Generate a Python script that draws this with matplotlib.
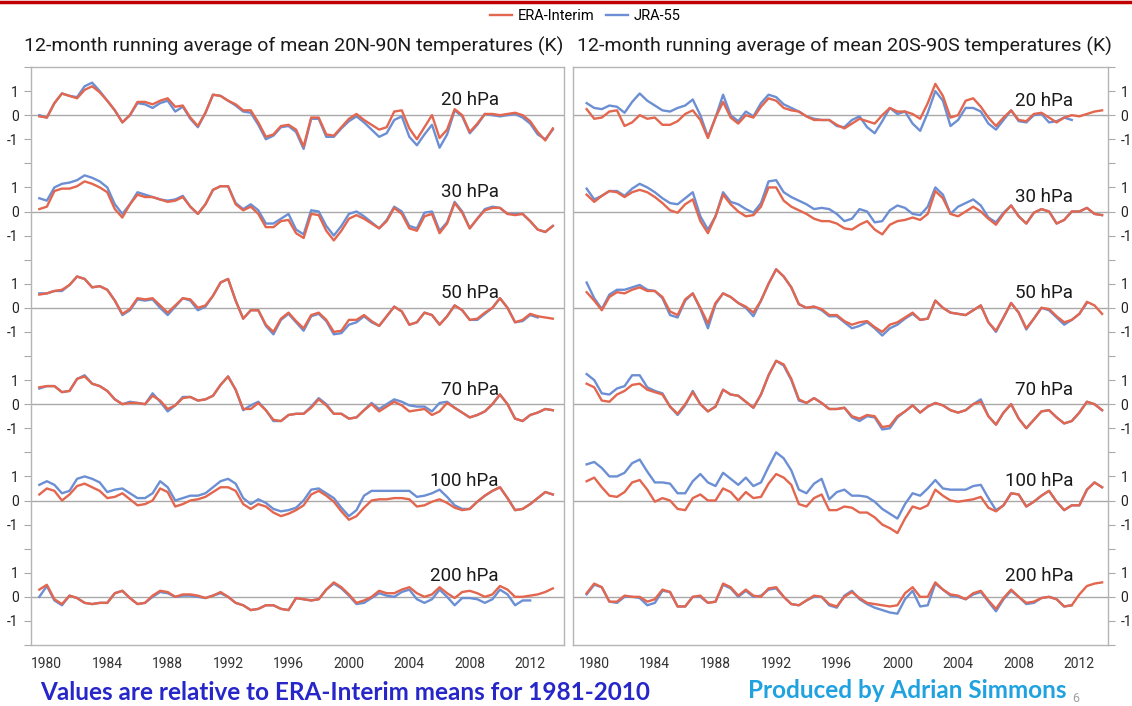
import numpy as np
import matplotlib
matplotlib.use("Agg")
import matplotlib.pyplot as plt
from matplotlib import font_manager
from matplotlib.lines import Line2D

# time axis: 12-month running means, read every half year
years = np.arange(1979.5, 2013.6, 0.5)
levels = ["20 hPa", "30 hPa", "50 hPa", "70 hPa", "100 hPa", "200 hPa"]
year_ticks = list(range(1980, 2013, 4))
nan = np.nan

# 20N-90N, ERA-Interim and JRA-55 anomalies (K)
era_n20 = [-0.05, -0.1, 0.5, 0.9, 0.8, 0.7, 1.05, 1.2, 0.95, 0.6,
           0.2, -0.3, 0.0, 0.55, 0.55, 0.45, 0.6, 0.7, 0.35, 0.4,
           -0.1, -0.45, 0.1, 0.85, 0.8, 0.6, 0.45, 0.2, 0.2, -0.3,
           -0.9, -0.8, -0.45, -0.4, -0.6, -1.3, -0.1, -0.1, -0.8, -0.85,
           -0.5, -0.15, 0.05, -0.2, -0.4, -0.6, -0.5, 0.15, 0.2, -0.55,
           -1.0, -0.5, 0.0, -0.95, -0.6, 0.25, 0.0, -0.7, -0.35, 0.05,
           0.05, 0.0, 0.05, 0.1, 0.0, -0.25, -0.7, -1.05, -0.55]
jra_n20 = [0.0, -0.1, 0.5, 0.9, 0.8, 0.75, 1.2, 1.35, 1.0, 0.6,
           0.2, -0.3, 0.0, 0.5, 0.45, 0.3, 0.5, 0.6, 0.15, 0.35,
           -0.15, -0.5, 0.1, 0.85, 0.8, 0.6, 0.4, 0.15, 0.1, -0.4,
           -1.0, -0.85, -0.5, -0.45, -0.7, -1.4, -0.15, -0.15, -0.9, -0.9,
           -0.55, -0.25, -0.05, -0.3, -0.6, -0.9, -0.75, -0.2, -0.05, -0.9,
           -1.25, -0.8, -0.4, -1.35, -0.8, 0.2, -0.05, -0.75, -0.4, 0.05,
           0.0, -0.05, 0.0, 0.05, -0.1, -0.35, -0.8, -1.0, -0.6]
era_n30 = [0.1, 0.2, 0.85, 0.95, 0.95, 1.05, 1.25, 1.15, 1.0, 0.8,
           0.1, -0.25, 0.3, 0.7, 0.6, 0.6, 0.5, 0.4, 0.45, 0.6,
           0.2, -0.1, 0.3, 0.9, 1.05, 1.05, 0.3, 0.05, 0.2, -0.1,
           -0.65, -0.65, -0.4, -0.35, -0.9, -1.1, -0.1, -0.15, -0.8, -1.2,
           -0.8, -0.3, -0.15, -0.3, -0.5, -0.7, -0.4, 0.15, -0.1, -0.7,
           -0.8, -0.2, -0.1, -0.9, -0.5, 0.35, -0.05, -0.7, -0.3, 0.05,
           0.15, 0.15, -0.1, -0.15, -0.1, -0.4, -0.75, -0.85, -0.6]
jra_n30 = [0.55, 0.45, 1.0, 1.15, 1.2, 1.3, 1.5, 1.4, 1.25, 1.0,
           0.3, -0.1, 0.3, 0.8, 0.7, 0.6, 0.5, 0.45, 0.5, 0.65,
           0.2, -0.1, 0.3, 0.9, 1.05, 1.05, 0.35, 0.1, 0.3, 0.05,
           -0.5, -0.5, -0.3, -0.1, -0.75, -0.95, 0.05, 0.0, -0.6, -1.0,
           -0.6, -0.1, 0.0, -0.2, -0.45, -0.7, -0.35, 0.2, 0.0, -0.6,
           -0.7, -0.05, 0.0, -0.8, -0.45, 0.4, 0.0, -0.7, -0.3, 0.1,
           0.2, 0.15, -0.1, -0.1, -0.1, -0.4, -0.75, -0.85, -0.6]
era_n50 = [0.55, 0.6, 0.7, 0.75, 0.95, 1.3, 1.2, 0.85, 0.9, 0.75,
           0.3, -0.25, -0.05, 0.4, 0.35, 0.4, 0.1, -0.2, 0.1, 0.4,
           0.35, 0.0, 0.1, 0.5, 1.05, 1.2, 0.3, -0.45, -0.1, -0.1,
           -0.7, -1.0, -0.45, -0.2, -0.55, -0.85, -0.3, -0.2, -0.5, -1.0,
           -0.95, -0.5, -0.5, -0.3, -0.55, -0.75, -0.35, 0.05, -0.15, -0.7,
           -0.6, -0.2, -0.3, -0.7, -0.35, 0.1, -0.1, -0.5, -0.45, -0.2,
           0.0, 0.4, 0.0, -0.6, -0.5, -0.25, -0.35, -0.4, -0.45]
jra_n50 = [0.6, 0.6, 0.7, 0.7, 0.95, 1.3, 1.2, 0.85, 0.9, 0.75,
           0.3, -0.3, -0.1, 0.35, 0.3, 0.35, 0.0, -0.3, 0.05, 0.4,
           0.3, -0.1, 0.05, 0.5, 1.05, 1.2, 0.3, -0.45, -0.1, -0.1,
           -0.75, -1.1, -0.5, -0.25, -0.6, -0.95, -0.35, -0.25, -0.55, -1.1,
           -1.05, -0.7, -0.6, -0.35, -0.6, -0.75, -0.35, 0.05, -0.15, -0.7,
           -0.6, -0.2, -0.3, -0.7, -0.35, 0.1, -0.1, -0.5, -0.5, -0.25,
           0.0, 0.4, 0.0, -0.6, -0.55, -0.3, -0.4, nan, nan]
era_n70 = [0.7, 0.75, 0.75, 0.5, 0.55, 1.05, 1.15, 0.85, 0.75, 0.55,
           0.2, 0.0, 0.05, 0.05, 0.0, 0.35, 0.15, -0.2, -0.05, 0.25,
           0.3, 0.15, 0.2, 0.35, 0.8, 1.15, 0.6, -0.2, -0.2, 0.05,
           -0.25, -0.65, -0.7, -0.45, -0.4, -0.4, -0.15, 0.2, -0.05, -0.4,
           -0.4, -0.6, -0.55, -0.25, 0.0, -0.3, -0.1, 0.1, -0.05, -0.3,
           -0.25, -0.2, -0.45, -0.3, 0.05, -0.15, -0.35, -0.55, -0.45, -0.3,
           0.0, 0.4, 0.0, -0.6, -0.7, -0.45, -0.35, -0.2, -0.25]
jra_n70 = [0.65, 0.75, 0.75, 0.5, 0.55, 1.05, 1.2, 0.85, 0.75, 0.55,
           0.2, 0.0, 0.1, 0.05, 0.0, 0.45, 0.1, -0.3, -0.05, 0.3,
           0.3, 0.15, 0.2, 0.35, 0.8, 1.15, 0.6, -0.25, -0.05, 0.1,
           -0.25, -0.7, -0.7, -0.45, -0.4, -0.4, -0.1, 0.25, 0.0, -0.4,
           -0.4, -0.6, -0.55, -0.25, 0.05, -0.2, 0.0, 0.2, 0.1, -0.05,
           -0.1, -0.1, -0.3, 0.05, 0.1, -0.15, -0.35, -0.55, -0.45, -0.3,
           0.0, 0.4, 0.0, -0.6, -0.7, -0.45, -0.35, -0.2, -0.25]
era_n100 = [0.25, 0.5, 0.4, 0.0, 0.25, 0.6, 0.7, 0.55, 0.4, 0.1,
            0.15, 0.3, 0.05, -0.2, -0.15, 0.0, 0.5, 0.35, -0.25, -0.15,
            0.0, 0.05, 0.15, 0.35, 0.55, 0.55, 0.4, -0.15, -0.35, -0.15,
            -0.25, -0.5, -0.65, -0.55, -0.4, -0.2, 0.25, 0.4, 0.2, -0.05,
            -0.45, -0.8, -0.65, -0.3, 0.0, 0.05, 0.05, 0.1, 0.1, 0.05,
            -0.25, -0.2, -0.05, 0.05, -0.1, -0.3, -0.4, -0.35, -0.05, 0.2,
            0.4, 0.55, 0.1, -0.4, -0.35, -0.15, 0.1, 0.35, 0.25]
jra_n100 = [0.65, 0.8, 0.65, 0.3, 0.4, 0.9, 1.0, 0.9, 0.75, 0.35,
            0.45, 0.5, 0.3, 0.1, 0.1, 0.3, 0.8, 0.55, 0.0, 0.1,
            0.2, 0.2, 0.3, 0.55, 0.8, 0.9, 0.7, 0.1, -0.15, 0.05,
            -0.1, -0.35, -0.45, -0.4, -0.3, 0.0, 0.45, 0.5, 0.3, 0.1,
            -0.3, -0.65, -0.4, 0.2, 0.4, 0.4, 0.4, 0.4, 0.4, 0.4,
            0.15, 0.2, 0.3, 0.45, 0.15, -0.2, -0.35, -0.35, -0.05, 0.2,
            0.4, 0.55, 0.1, -0.4, -0.35, -0.15, 0.1, 0.35, 0.25]
era_n200 = [0.3, 0.5, -0.1, -0.3, 0.05, -0.05, -0.25, -0.3, -0.25, -0.25,
            0.15, 0.25, -0.05, -0.3, -0.25, 0.05, 0.25, 0.2, 0.0, 0.1,
            0.1, 0.05, -0.05, 0.05, 0.2, 0.0, -0.25, -0.35, -0.55, -0.5,
            -0.35, -0.35, -0.5, -0.55, -0.05, -0.1, -0.15, -0.1, 0.3, 0.6,
            0.4, 0.1, -0.25, -0.15, 0.0, 0.25, 0.15, 0.15, 0.3, 0.4,
            0.15, 0.0, 0.1, 0.4, 0.15, -0.05, 0.2, 0.25, 0.15, 0.0,
            0.1, 0.45, 0.3, 0.0, 0.0, 0.05, 0.1, 0.2, 0.35]
jra_n200 = [0.0, 0.45, -0.15, -0.35, 0.05, -0.05, -0.25, -0.3, -0.25, -0.25,
            0.15, 0.25, -0.05, -0.3, -0.25, 0.0, 0.2, 0.15, 0.0, 0.05,
            0.05, 0.0, -0.05, 0.05, 0.15, 0.0, -0.25, -0.35, -0.55, -0.5,
            -0.35, -0.35, -0.5, -0.55, -0.05, -0.1, -0.15, -0.1, 0.3, 0.55,
            0.35, 0.05, -0.3, -0.25, -0.05, 0.15, 0.05, 0.0, 0.2, 0.3,
            -0.1, -0.25, -0.1, 0.3, 0.0, -0.35, -0.05, -0.05, -0.1, -0.25,
            -0.1, 0.3, 0.1, -0.35, -0.15, -0.15, nan, nan, nan]

# 20S-90S
era_s20 = [0.25, -0.15, -0.1, 0.15, 0.2, -0.45, -0.3, 0.0, -0.15, -0.1,
           -0.4, -0.4, -0.25, 0.05, 0.2, -0.2, -0.95, -0.1, 0.55, -0.1,
           -0.35, 0.0, -0.1, 0.35, 0.7, 0.6, 0.3, 0.2, 0.15, -0.05,
           -0.2, -0.2, -0.2, -0.4, -0.55, -0.35, -0.15, -0.25, -0.35, 0.0,
           0.3, 0.15, 0.15, 0.05, -0.15, 0.5, 1.3, 0.8, -0.1, 0.0,
           0.6, 0.7, 0.35, -0.1, -0.45, -0.1, 0.2, -0.2, -0.25, 0.05,
           0.1, -0.1, -0.3, -0.1, 0.0, -0.05, 0.05, 0.15, 0.2]
jra_s20 = [0.5, 0.3, 0.25, 0.4, 0.35, 0.1, 0.55, 0.9, 0.6, 0.4,
           0.2, 0.15, 0.3, 0.4, 0.65, 0.0, -0.9, -0.1, 0.85, 0.0,
           -0.25, 0.15, -0.05, 0.5, 0.85, 0.75, 0.45, 0.3, 0.15, -0.05,
           -0.15, -0.2, -0.2, -0.45, -0.5, -0.2, -0.05, -0.5, -0.75, -0.25,
           0.3, 0.05, 0.15, -0.35, -0.65, 0.1, 1.0, 0.6, -0.45, -0.2,
           0.3, 0.3, 0.15, -0.35, -0.6, -0.2, 0.2, -0.25, -0.3, 0.0,
           0.05, -0.3, -0.25, -0.1, -0.2, nan, nan, nan, nan]
era_s30 = [0.7, 0.4, 0.65, 0.85, 0.8, 0.6, 0.8, 0.9, 0.8, 0.6,
           0.35, 0.05, -0.05, 0.3, 0.5, -0.4, -0.9, -0.2, 0.7, 0.3,
           0.0, -0.2, -0.15, 0.2, 1.0, 1.0, 0.45, 0.2, 0.05, -0.1,
           -0.3, -0.4, -0.4, -0.5, -0.7, -0.75, -0.55, -0.4, -0.75, -0.95,
           -0.55, -0.4, -0.35, -0.25, -0.35, -0.1, 0.85, 0.55, -0.1, -0.2,
           0.0, 0.2, 0.0, -0.3, -0.55, -0.1, 0.25, -0.2, -0.5, -0.05,
           0.1, 0.0, -0.5, -0.35, 0.0, 0.0, 0.15, -0.1, -0.15]
jra_s30 = [0.95, 0.5, 0.65, 0.85, 0.85, 0.65, 0.95, 1.15, 1.0, 0.8,
           0.55, 0.35, 0.3, 0.55, 0.8, -0.2, -0.75, -0.2, 0.8, 0.4,
           0.3, 0.1, -0.05, 0.35, 1.25, 1.3, 0.8, 0.6, 0.45, 0.3,
           0.1, 0.15, 0.1, -0.1, -0.4, -0.3, 0.1, 0.0, -0.45, -0.4,
           0.05, 0.25, 0.15, -0.1, -0.15, 0.2, 1.0, 0.7, -0.1, 0.2,
           0.35, 0.5, 0.25, -0.25, -0.45, -0.05, 0.25, -0.2, -0.5, -0.05,
           0.1, 0.0, -0.5, -0.35, 0.0, 0.0, 0.15, -0.1, -0.15]
era_s50 = [0.65, 0.3, -0.1, 0.45, 0.65, 0.6, 0.75, 0.85, 0.7, 0.7,
           0.45, -0.15, -0.3, 0.35, 0.6, 0.0, -0.65, 0.2, 0.6, 0.45,
           0.2, 0.05, -0.2, 0.3, 1.0, 1.6, 1.3, 0.85, 0.15, 0.0,
           0.05, -0.05, -0.3, -0.3, -0.55, -0.7, -0.6, -0.55, -0.8, -1.0,
           -0.7, -0.6, -0.4, -0.2, -0.5, -0.45, 0.3, 0.0, -0.2, -0.25,
           -0.3, -0.1, 0.1, -0.6, -0.95, -0.4, 0.2, -0.2, -0.85, -0.45,
           0.0, -0.05, -0.35, -0.6, -0.5, -0.25, 0.25, 0.1, -0.25]
jra_s50 = [1.05, 0.4, -0.05, 0.55, 0.75, 0.75, 0.85, 0.95, 0.75, 0.7,
           0.4, -0.3, -0.4, 0.3, 0.6, -0.05, -0.85, 0.15, 0.6, 0.45,
           0.2, 0.0, -0.35, 0.3, 1.0, 1.6, 1.3, 0.85, 0.15, 0.0,
           0.05, -0.1, -0.35, -0.35, -0.6, -0.85, -0.75, -0.6, -0.85, -1.15,
           -0.85, -0.7, -0.45, -0.25, -0.5, -0.45, 0.3, 0.0, -0.2, -0.25,
           -0.3, -0.1, 0.1, -0.6, -1.0, -0.4, 0.2, -0.2, -0.9, -0.45,
           0.0, -0.1, -0.4, -0.7, -0.5, -0.25, 0.2, nan, nan]
era_s70 = [0.85, 0.7, 0.15, 0.1, 0.4, 0.55, 0.8, 0.85, 0.6, 0.5,
           0.4, -0.1, -0.4, 0.0, 0.5, 0.0, -0.3, -0.1, 0.6, 0.4,
           0.35, 0.1, -0.15, 0.4, 1.2, 1.8, 1.65, 1.05, 0.2, 0.05,
           0.25, 0.05, -0.2, -0.2, -0.15, -0.5, -0.6, -0.45, -0.5, -0.95,
           -0.9, -0.5, -0.3, -0.05, -0.35, -0.1, 0.05, -0.05, -0.25, -0.35,
           -0.25, 0.0, 0.1, -0.5, -0.85, -0.35, 0.0, -0.6, -1.0, -0.65,
           -0.3, -0.25, -0.55, -0.8, -0.7, -0.35, 0.1, 0.0, -0.25]
jra_s70 = [1.25, 1.0, 0.45, 0.4, 0.65, 0.75, 1.2, 1.2, 0.7, 0.55,
           0.45, -0.1, -0.45, -0.05, 0.55, 0.0, -0.3, -0.1, 0.6, 0.4,
           0.35, 0.1, -0.15, 0.4, 1.2, 1.8, 1.6, 1.0, 0.15, 0.05,
           0.25, 0.05, -0.2, -0.2, -0.15, -0.55, -0.7, -0.5, -0.55, -1.05,
           -1.0, -0.55, -0.3, -0.05, -0.35, -0.1, 0.05, -0.05, -0.25, -0.35,
           -0.25, 0.0, 0.2, -0.5, -0.85, -0.35, 0.0, -0.6, -1.0, -0.65,
           -0.3, -0.25, -0.55, -0.8, -0.7, -0.35, 0.1, 0.0, -0.25]
era_s100 = [0.8, 0.95, 0.55, 0.2, 0.15, 0.35, 0.75, 0.85, 0.45, -0.05,
            0.1, 0.0, -0.35, -0.4, 0.1, 0.25, 0.0, 0.0, 0.5, 0.35,
            0.0, 0.35, 0.1, 0.15, 0.7, 1.1, 0.95, 0.65, -0.15, -0.25,
            0.1, 0.25, -0.4, -0.4, -0.25, -0.3, -0.5, -0.5, -0.7, -1.0,
            -1.15, -1.35, -0.75, -0.25, -0.35, -0.2, 0.45, 0.2, 0.0, -0.05,
            0.0, 0.05, 0.15, -0.3, -0.45, -0.2, 0.3, 0.25, -0.25, -0.05,
            0.2, 0.4, -0.05, -0.4, -0.2, -0.2, 0.45, 0.75, 0.55]
jra_s100 = [1.5, 1.6, 1.35, 1.0, 1.0, 1.15, 1.55, 1.7, 1.2, 0.75,
            0.75, 0.7, 0.3, 0.3, 0.8, 1.1, 0.75, 0.6, 1.15, 0.9,
            0.65, 0.95, 0.6, 0.75, 1.4, 2.0, 1.75, 1.25, 0.45, 0.3,
            0.7, 0.9, 0.05, 0.35, 0.45, 0.2, 0.2, 0.15, -0.05, -0.35,
            -0.55, -0.75, -0.15, 0.3, 0.2, 0.5, 0.85, 0.5, 0.45, 0.45,
            0.45, 0.6, 0.65, 0.1, -0.4, -0.2, 0.3, 0.25, -0.25, -0.05,
            0.2, 0.4, -0.05, -0.4, -0.2, -0.2, 0.45, 0.75, 0.55]
era_s200 = [0.15, 0.55, 0.4, -0.2, -0.2, 0.05, 0.0, 0.0, -0.2, -0.1,
            0.3, 0.2, -0.4, -0.4, 0.0, 0.05, -0.25, -0.2, 0.55, 0.4,
            0.05, 0.3, 0.05, 0.0, 0.35, 0.4, 0.0, -0.3, -0.35, -0.15,
            0.05, 0.0, -0.3, -0.4, 0.0, 0.2, -0.05, -0.25, -0.3, -0.35,
            -0.4, -0.35, 0.15, 0.4, 0.0, 0.0, 0.6, 0.3, 0.1, 0.05,
            -0.1, 0.15, 0.25, -0.15, -0.5, -0.05, 0.3, 0.0, -0.25, -0.2,
            -0.05, 0.0, -0.1, -0.4, -0.35, 0.1, 0.45, 0.55, 0.6]
jra_s200 = [0.1, 0.5, 0.4, -0.2, -0.25, 0.0, 0.0, -0.05, -0.35, -0.25,
            0.25, 0.2, -0.4, -0.4, 0.0, 0.0, -0.25, -0.2, 0.5, 0.35,
            0.0, 0.25, 0.0, 0.05, 0.3, 0.35, 0.0, -0.3, -0.35, -0.15,
            0.0, 0.0, -0.35, -0.45, 0.05, 0.25, -0.1, -0.3, -0.45, -0.55,
            -0.65, -0.7, -0.1, 0.25, -0.4, -0.35, 0.55, 0.3, 0.05, 0.0,
            -0.1, 0.1, 0.2, -0.2, -0.6, -0.1, 0.25, 0.0, -0.3, -0.25,
            -0.05, 0.0, -0.1, -0.4, -0.35, nan, nan, nan, nan]

era_north = [era_n20, era_n30, era_n50, era_n70, era_n100, era_n200]
jra_north = [jra_n20, jra_n30, jra_n50, jra_n70, jra_n100, jra_n200]
era_south = [era_s20, era_s30, era_s50, era_s70, era_s100, era_s200]
jra_south = [jra_s20, jra_s30, jra_s50, jra_s70, jra_s100, jra_s200]

# STYLE
ERA_COLOR = "#e3664f"
JRA_COLOR = "#6c8fd4"
OFFSETS = [20, 16, 12, 8, 4, 0]  # each level is shifted by 4 K

installed = {f.name for f in font_manager.fontManager.ttflist}
MAIN = "Roboto" if "Roboto" in installed else "DejaVu Sans"
BOLD = "Lato" if "Lato" in installed else "DejaVu Sans"
plt.rcParams["font.family"] = MAIN

W, H = 1132, 706
fig = plt.figure(figsize=(W / 100, H / 100), dpi=100)


def draw_panel(rect, era_list, jra_list, xlim, label_x, label_dy, right_side):
    ax = fig.add_axes(rect)
    for off, era, jra, name, dy in zip(OFFSETS, era_list, jra_list, levels, label_dy):
        ax.axhline(off, color="#a9a9a9", lw=1.0, zorder=1)
        ax.plot(years, np.array(jra) + off, color=JRA_COLOR, lw=1.7, zorder=2)
        ax.plot(years, np.array(era) + off, color=ERA_COLOR, lw=1.7, zorder=3)
        ax.text(label_x, off + dy, name, transform=ax.get_yaxis_transform(),
                ha="right", va="center", fontsize=13.5, color="#1a1a1a")

    ax.set_xlim(*xlim)
    ax.set_ylim(-2, 22)
    ticks = list(range(-2, 23))
    labels = []
    for v in ticks:
        rel = v - 4 * round(v / 4)
        labels.append(str(rel) if abs(rel) <= 1 else "")
    ax.set_yticks(ticks)
    ax.set_yticklabels(labels)
    ax.set_xticks(year_ticks)
    ax.tick_params(axis="x", length=0, pad=9, labelsize=10, labelcolor="#333333")
    ax.tick_params(axis="y", length=5, width=0.8, color="#a9a9a9", pad=4,
                   labelsize=10, labelcolor="#222222")
    if right_side:
        ax.yaxis.tick_right()
    for sp in ax.spines.values():
        sp.set_color("#b5b5b5")
        sp.set_linewidth(1.0)
    return ax


draw_panel([31 / W, 61 / H, 533 / W, 578 / H], era_north, jra_north,
           (1978.95, 2014.24), 0.878, [0.65, 0.8, 0.6, 0.6, 0.8, 0.85], False)
draw_panel([573 / W, 61 / H, 535 / W, 578 / H], era_south, jra_south,
           (1978.6, 2013.89), 0.935, [0.6, 0.6, 0.6, 0.6, 0.83, 0.86], True)

# titles
fig.text(294 / W, 1 - 46 / H, "12-month running average of mean 20N-90N temperatures (K)",
         ha="center", va="center", fontsize=14, color="#1a1a1a")
fig.text(844 / W, 1 - 46 / H, "12-month running average of mean 20S-90S temperatures (K)",
         ha="center", va="center", fontsize=14, color="#1a1a1a")

# legend
handles = [Line2D([], [], color=ERA_COLOR, lw=1.7), Line2D([], [], color=JRA_COLOR, lw=1.7)]
fig.legend(handles, ["ERA-Interim", "JRA-55"], loc="center", bbox_to_anchor=(585 / W, 1 - 16 / H),
           ncol=2, frameon=False, fontsize=10.5, handlelength=1.5, handletextpad=0.4,
           columnspacing=0.8, borderpad=0)

# slide decorations
fig.add_artist(Line2D([0, 1], [1 - 2 / H, 1 - 2 / H], color="#c00000", lw=2.5,
                      transform=fig.transFigure))
fig.text(40 / W, 1 - 692 / H, "Values are relative to ERA-Interim means for 1981-2010",
         ha="left", va="center", fontsize=17.5, fontweight="bold", color="#2626c9", family=BOLD)
fig.text(748 / W, 1 - 690 / H, "Produced by Adrian Simmons",
         ha="left", va="center", fontsize=17.5, fontweight="bold", color="#1fa2df", family=BOLD)
fig.text(1072 / W, 1 - 699 / H, "6", ha="left", va="center", fontsize=9, color="#a0a0a0")

fig.savefig("out.png", dpi=100)
